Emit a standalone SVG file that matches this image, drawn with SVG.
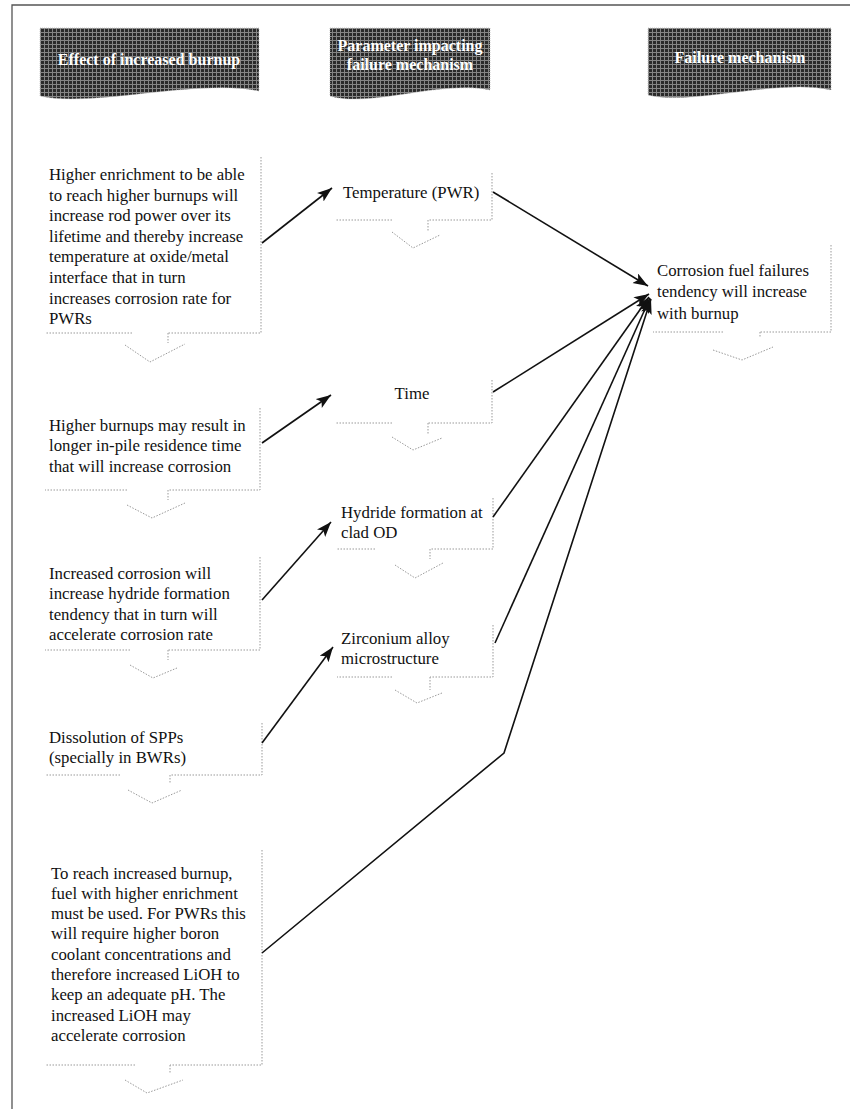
<svg xmlns="http://www.w3.org/2000/svg" width="850" height="1109" viewBox="0 0 850 1109">
<defs>
<pattern id="hatch" width="4" height="4" patternUnits="userSpaceOnUse">
<rect width="4" height="4" fill="#2a2a2a"/>
<path d="M0,0.5 H4 M0.5,0 V4" stroke="#858585" stroke-width="1"/>
</pattern>
<marker id="arr" markerUnits="userSpaceOnUse" markerWidth="16" markerHeight="12" refX="15" refY="5.5" orient="auto">
<path d="M0,0 L15,5.5 L0,11 L3.5,5.5 z" fill="#111"/>
</marker>
<style>
.hdr{fill:url(#hatch);stroke:#bbb;stroke-width:0.8;stroke-dasharray:1 1}
.ht{font-family:"Liberation Serif",serif;font-size:16px;font-weight:bold;fill:#fff;text-anchor:middle}
.t{font-family:"Liberation Serif",serif;font-size:16.8px;fill:#111}
.ol{fill:none;stroke:#999;stroke-width:1;stroke-dasharray:1.5 1.5}
.cn{fill:none;stroke:#111;stroke-width:1.6}
.frame{fill:none;stroke:#555;stroke-width:1.3}
</style>
</defs>
<rect width="850" height="1109" fill="#fff"/>
<path class="frame" d="M12,1109 V5 H850"/>

<g id="header1">
<path class="hdr" d="M40,28 H259 V91 C200,78 90,108 40,96 Z"/>
<text class="ht" x="149" y="65">Effect of increased burnup</text>
</g>
<g id="header2">
<path class="hdr" d="M330,28 H490 V90 C440,80 370,108 330,96 Z"/>
<text class="ht" x="410" y="51">Parameter impacting</text>
<text class="ht" x="410" y="70">failure mechanism</text>
</g>
<g id="header3">
<path class="hdr" d="M648,28 H831 V90 C780,78 690,106 648,95 Z"/>
<text class="ht" x="740" y="63">Failure mechanism</text>
</g>

<g id="nodeA">
<path class="ol" d="M261,157 V333 H168 M132,333 H45 M168,333 V343 M125,345 L150,362 L185,344"/>
<text class="t" x="49" y="180">Higher enrichment to be able</text>
<text class="t" x="49" y="200.6">to reach higher burnups will</text>
<text class="t" x="49" y="221.2">increase rod power over its</text>
<text class="t" x="49" y="241.8">lifetime and thereby increase</text>
<text class="t" x="49" y="262.4">temperature at oxide/metal</text>
<text class="t" x="49" y="283">interface that in turn</text>
<text class="t" x="49" y="303.6">increases corrosion rate for</text>
<text class="t" x="49" y="324.2">PWRs</text>
</g>
<g id="nodeB">
<path class="ol" d="M260,408 V490 H168 M127,490 H45 M168,490 V500 M127,505 L152,518 L185,503"/>
<text class="t" x="49" y="430.5">Higher burnups may result in</text>
<text class="t" x="49" y="451">longer in-pile residence time</text>
<text class="t" x="49" y="471.5">that will increase corrosion</text>
</g>
<g id="nodeC">
<path class="ol" d="M260,557 V650 H168 M130,650 H45 M168,650 V660 M130,665 L153,678 L177,668"/>
<text class="t" x="49" y="578.5">Increased corrosion will</text>
<text class="t" x="49" y="599">increase hydride formation</text>
<text class="t" x="49" y="619.5">tendency that in turn will</text>
<text class="t" x="49" y="640">accelerate corrosion rate</text>
</g>
<g id="nodeD">
<path class="ol" d="M262,723 V775 H170 M120,775 H45 M170,775 V783 M128,790 L152,803 L182,790"/>
<text class="t" x="49" y="742.5">Dissolution of SPPs</text>
<text class="t" x="49" y="763">(specially in BWRs)</text>
</g>
<g id="nodeE">
<path class="ol" d="M262,850 V1065 H170 M135,1065 H45 M170,1065 V1073 M125,1080 L147,1093 L183,1080"/>
<text class="t" x="51" y="878.5">To reach increased burnup,</text>
<text class="t" x="51" y="898.8">fuel with higher enrichment</text>
<text class="t" x="51" y="919.1">must be used. For PWRs this</text>
<text class="t" x="51" y="939.4">will require higher boron</text>
<text class="t" x="51" y="959.7">coolant concentrations and</text>
<text class="t" x="51" y="980">therefore increased LiOH to</text>
<text class="t" x="51" y="1000.3">keep an adequate pH. The</text>
<text class="t" x="51" y="1020.6">increased LiOH may</text>
<text class="t" x="51" y="1040.9">accelerate corrosion</text>
</g>

<g id="nodeTemperature">
<path class="ol" d="M492,173 V220 H428 M392,220 H335 M428,220 V232 M392,232 L413,248 L440,235"/>
<text class="t" x="343" y="197.5">Temperature (PWR)</text>
</g>
<g id="nodeTime">
<path class="ol" d="M492,380 V423 H428 M392,423 H335 M428,423 V435 M392,437 L413,450 L442,438"/>
<text class="t" x="412" y="398.5" text-anchor="middle">Time</text>
</g>
<g id="nodeHydride">
<path class="ol" d="M493,498 V549 H430 M375,549 H336 M430,549 V559 M395,565 L415,578 L443,563"/>
<text class="t" x="341" y="517.5">Hydride formation at</text>
<text class="t" x="341" y="538">clad OD</text>
</g>
<g id="nodeZirconium">
<path class="ol" d="M493,625 V677 H430 M392,677 H337 M430,677 V690 M395,690 L417,703 L442,693"/>
<text class="t" x="341" y="643.5">Zirconium alloy</text>
<text class="t" x="341" y="664">microstructure</text>
</g>
<g id="nodeCorrosion">
<path class="ol" d="M831,245 V332 H760 M723,332 H653 M760,332 V338 M713,350 L742,360 L773,347"/>
<text class="t" x="657" y="275.5">Corrosion fuel failures</text>
<text class="t" x="657" y="297">tendency will increase</text>
<text class="t" x="657" y="318.5">with burnup</text>
</g>

<g id="connectors">
<path class="cn" marker-end="url(#arr)" d="M262,243 L332,188"/>
<path class="cn" marker-end="url(#arr)" d="M262,443 L331,395"/>
<path class="cn" marker-end="url(#arr)" d="M262,600 L331,522"/>
<path class="cn" marker-end="url(#arr)" d="M262,743 L333,647"/>
<path class="cn" marker-end="url(#arr)" d="M493,192 L648,286"/>
<path class="cn" marker-end="url(#arr)" d="M493,392 L649,294"/>
<path class="cn" marker-end="url(#arr)" d="M493,517 L649,297"/>
<path class="cn" marker-end="url(#arr)" d="M495,643 L650,298"/>
<path class="cn" marker-end="url(#arr)" d="M262,953 L504,753 L651,299"/>
</g>
</svg>
